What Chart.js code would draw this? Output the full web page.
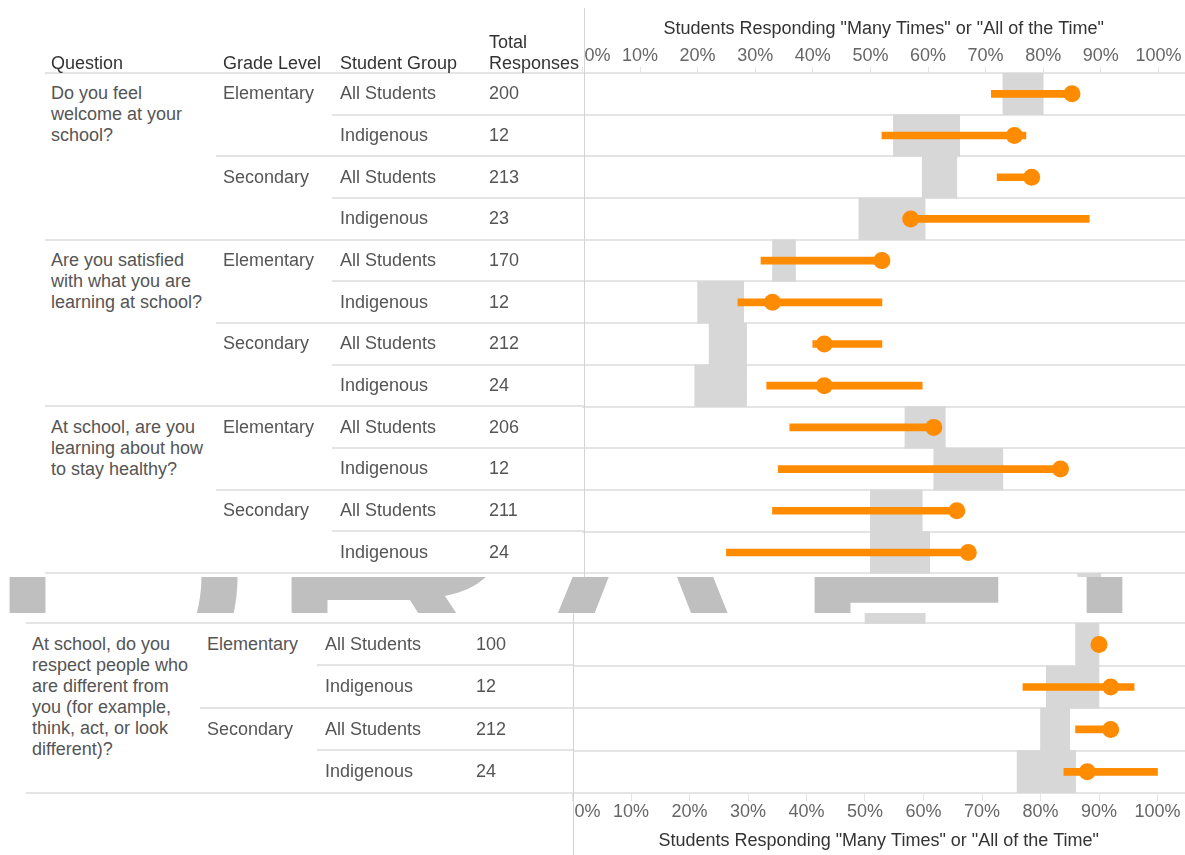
<!DOCTYPE html>
<html>
<head>
<meta charset="utf-8">
<script src="https://cdn.jsdelivr.net/npm/chart.js@4.4.1/dist/chart.umd.min.js"></script>
<style>
body{margin:0;width:1185px;height:855px;background:#fff;overflow:hidden;font-family:"Liberation Sans",Arial,Helvetica,sans-serif;}
.panel{position:absolute;left:0;width:1185px;overflow:hidden;background:#fff;}
.t{position:absolute;font-size:18px;line-height:21px;color:#555;white-space:nowrap;}
.h{color:#333;}
.ln{position:absolute;height:2px;background:#e4e4e4;}
.vl{position:absolute;width:1px;background:#d4d4d4;}
canvas{position:absolute;}
#wm{position:absolute;left:0;top:577px;width:1185px;height:36px;overflow:hidden;}
#wm span{position:absolute;top:-193px;font-size:385px;line-height:1;font-weight:normal;color:#bfbfbf;}
</style>
</head>
<body>
<div id="wm"><span style="left:-22px">D</span><span style="left:260px">R</span><span style="left:509px;top:-184px;font-size:400px">A</span><span style="left:783px">F</span><span style="left:987px">T</span></div>
<div class="panel" id="top" style="top:0;height:577px;"><canvas id="c1" width="645" height="615" style="left:540px;top:0"></canvas></div>
<div class="panel" id="bottom" style="top:613px;height:242px;"><canvas id="c2" width="656" height="274" style="left:529px;top:-32px"></canvas></div>
<script>
// survey rows, one entry per question / grade / group
const questions = [
    ['Do you feel', 'welcome at your', 'school?'],
    ['Are you satisfied', 'with what you are', 'learning at school?'],
    ['At school, are you', 'learning about how', 'to stay healthy?'],
    ['At school, do you', 'respect people who', 'are different from', 'you (for example,', 'think, act, or look', 'different)?']
];
const rowQuestion = [0, 0, 0, 0, 1, 1, 1, 1, 2, 2, 2, 2, 3, 3, 3, 3];
const rowGrade = ['Elementary', 'Elementary', 'Secondary', 'Secondary',
    'Elementary', 'Elementary', 'Secondary', 'Secondary',
    'Elementary', 'Elementary', 'Secondary', 'Secondary',
    'Elementary', 'Elementary', 'Secondary', 'Secondary'];
const rowGroup = ['All Students', 'Indigenous', 'All Students', 'Indigenous',
    'All Students', 'Indigenous', 'All Students', 'Indigenous',
    'All Students', 'Indigenous', 'All Students', 'Indigenous',
    'All Students', 'Indigenous', 'All Students', 'Indigenous'];
const totalResponses = [200, 12, 213, 23, 170, 12, 212, 24, 206, 12, 211, 24, 100, 12, 212, 24];

// grey band (range) and orange interval + point, in percent
const rangeLow  = [73, 54, 59, 48, 33, 20, 22, 19.5, 56, 61, 50, 50, 86, 81, 80, 76];
const rangeHigh = [80, 65.5, 65, 59.5, 37, 28, 28.5, 28.5, 63, 73, 59, 60.3, 90, 90, 85, 86];
const ciLow     = [71, 52, 72, 57, 31, 27, 40, 32, 36, 34, 33, 25, 89, 77, 86, 84];
const ciHigh    = [85, 77, 78, 88, 52, 52, 52, 59, 61, 83, 65, 67, 90, 96, 92, 100];
const pctValue  = [85, 75, 78, 57, 52, 33, 42, 42, 61, 83, 65, 67, 90, 92, 92, 88];

const tickValues = [0, 10, 20, 30, 40, 50, 60, 70, 80, 90, 100];
const axisTitle = 'Students Responding "Many Times" or "All of the Time"';
const headers = ['Question', 'Grade Level', 'Student Group', 'Total', 'Responses'];

const grey = '#d7d7d7';
const orange = '#fe8b00';
const lineColor = '#e4e4e4';

Chart.defaults.font.family = '"Liberation Sans", Arial, sans-serif';
Chart.defaults.font.size = 18;

function rowLabel(i) {
    return 'Q' + (rowQuestion[i] + 1) + ' ' + rowGrade[i] + ' ' + rowGroup[i];
}

function addDiv(parent, cls, style, text) {
    const d = document.createElement('div');
    d.className = cls;
    Object.assign(d.style, style);
    if (text !== undefined) d.innerHTML = text;
    parent.appendChild(d);
    return d;
}

// table part on the left
function buildTable(panel, rows, g) {
    const n = rows.length;
    rows.forEach((i, k) => {
        const cy = g.top + (k + 0.5) * g.rowH;
        const ty = (cy - 10.5) + 'px';
        if (rowGrade[i] === 'Elementary' && rowGroup[i] === 'All Students') {
            addDiv(panel, 't', {left: g.qx + 'px', top: ty}, questions[rowQuestion[i]].join('<br>'));
        }
        if (rowGroup[i] === 'All Students') {
            addDiv(panel, 't', {left: g.gx + 'px', top: ty}, rowGrade[i]);
        }
        addDiv(panel, 't', {left: g.sx + 'px', top: ty}, rowGroup[i]);
        addDiv(panel, 't', {left: g.tx + 'px', top: ty}, totalResponses[i]);

        const by = g.top + (k + 1) * g.rowH;
        let x0 = g.qx - 6;
        if (k < n - 1) {
            const j = rows[k + 1];
            if (rowQuestion[j] !== rowQuestion[i]) x0 = g.qx - 6;
            else if (rowGrade[j] !== rowGrade[i]) x0 = g.gx - 7;
            else x0 = g.sx - 8;
        }
        addDiv(panel, 'ln', {left: x0 + 'px', top: (by - 1) + 'px', width: (g.right - x0) + 'px'});
    });
    addDiv(panel, 'ln', {left: (g.qx - 6) + 'px', top: (g.top - 1) + 'px', width: (g.right - g.qx + 6) + 'px'});
}

function makeChart(id, rows, g) {
    const labels = rows.map(rowLabel);
    return new Chart(document.getElementById(id), {
        type: 'bar',
        data: {
            labels: labels,
            datasets: [{
                label: 'Range',
                data: rows.map(i => [rangeLow[i], rangeHigh[i]]),
                backgroundColor: grey,
                barPercentage: 1,
                categoryPercentage: 1,
                grouped: false,
                order: 3
            }, {
                label: 'Interval',
                data: rows.map(i => [ciLow[i], ciHigh[i]]),
                backgroundColor: orange,
                barThickness: 7,
                grouped: false,
                order: 2
            }, {
                type: 'line',
                label: 'Percent',
                data: rows.map((i, k) => ({x: pctValue[i], y: labels[k]})),
                showLine: false,
                pointRadius: 8.5,
                pointBorderWidth: 0,
                pointBackgroundColor: orange,
                borderColor: orange,
                order: 1
            }]
        },
        options: {
            indexAxis: 'y',
            responsive: false,
            animation: false,
            layout: {padding: g.padding, autoPadding: false},
            plugins: {legend: {display: false}, tooltip: {enabled: false}},
            scales: {
                x: {
                    type: 'linear',
                    position: g.position,
                    min: 0,
                    max: g.xMax,
                    afterBuildTicks: scale => {
                        scale.ticks = tickValues.map(v => ({value: v}));
                    },
                    ticks: {
                        // first label sits inside the pane, like the original
                        callback: v => (v === 0 ? '\u2007\u2007\u2007' : '') + v + '%',
                        color: '#666',
                        padding: 0,
                        maxRotation: 0,
                        autoSkip: false
                    },
                    grid: {
                        drawOnChartArea: false,
                        drawTicks: true,
                        tickLength: g.tickLength,
                        color: lineColor
                    },
                    border: {display: false},
                    title: {
                        display: true,
                        text: axisTitle,
                        color: '#333',
                        padding: g.titlePad
                    }
                },
                y: {
                    type: 'category',
                    offset: true,
                    ticks: {display: false},
                    grid: {offset: true, drawTicks: false, color: lineColor, lineWidth: 2},
                    border: {display: false}
                }
            }
        }
    });
}

const topPanel = document.getElementById('top');
const bottomPanel = document.getElementById('bottom');

// top panel: rows 0-11, row 12 peeks in at the bottom edge
buildTable(topPanel, [0, 1, 2, 3, 4, 5, 6, 7, 8, 9, 10, 11],
    {top: 73, rowH: 41.67, qx: 51, gx: 223, sx: 340, tx: 489, right: 584});
addDiv(topPanel, 't h', {left: '51px', top: '52.5px'}, headers[0]);
addDiv(topPanel, 't h', {left: '223px', top: '52.5px'}, headers[1]);
addDiv(topPanel, 't h', {left: '340px', top: '52.5px'}, headers[2]);
addDiv(topPanel, 't h', {left: '489px', top: '31.5px'}, headers[3] + '<br>' + headers[4]);
addDiv(topPanel, 'vl', {left: '584px', top: '8px', height: '569px'});

makeChart('c1', [0, 1, 2, 3, 4, 5, 6, 7, 8, 9, 10, 11, 12], {
    position: 'top',
    xMax: (1185 - 582.4) / 5.76,
    padding: {left: 42.4, top: 17.8, right: 0, bottom: 0},
    tickLength: 6,
    titlePad: {top: 0, bottom: 6}
});

// bottom panel: rows 12-15, row 11 peeks in at the top edge
buildTable(bottomPanel, [12, 13, 14, 15],
    {top: 10, rowH: 42.4, qx: 32, gx: 207, sx: 325, tx: 476, right: 573});
addDiv(bottomPanel, 'vl', {left: '573px', top: '0px', height: '242px'});

makeChart('c2', [11, 12, 13, 14, 15], {
    position: 'bottom',
    xMax: (1185 - 572.5) / 5.85,
    padding: {left: 43.5, top: 0, right: 0, bottom: 0},
    tickLength: 8,
    titlePad: {top: 7.6, bottom: 3.2}
});
</script>
</body>
</html>
